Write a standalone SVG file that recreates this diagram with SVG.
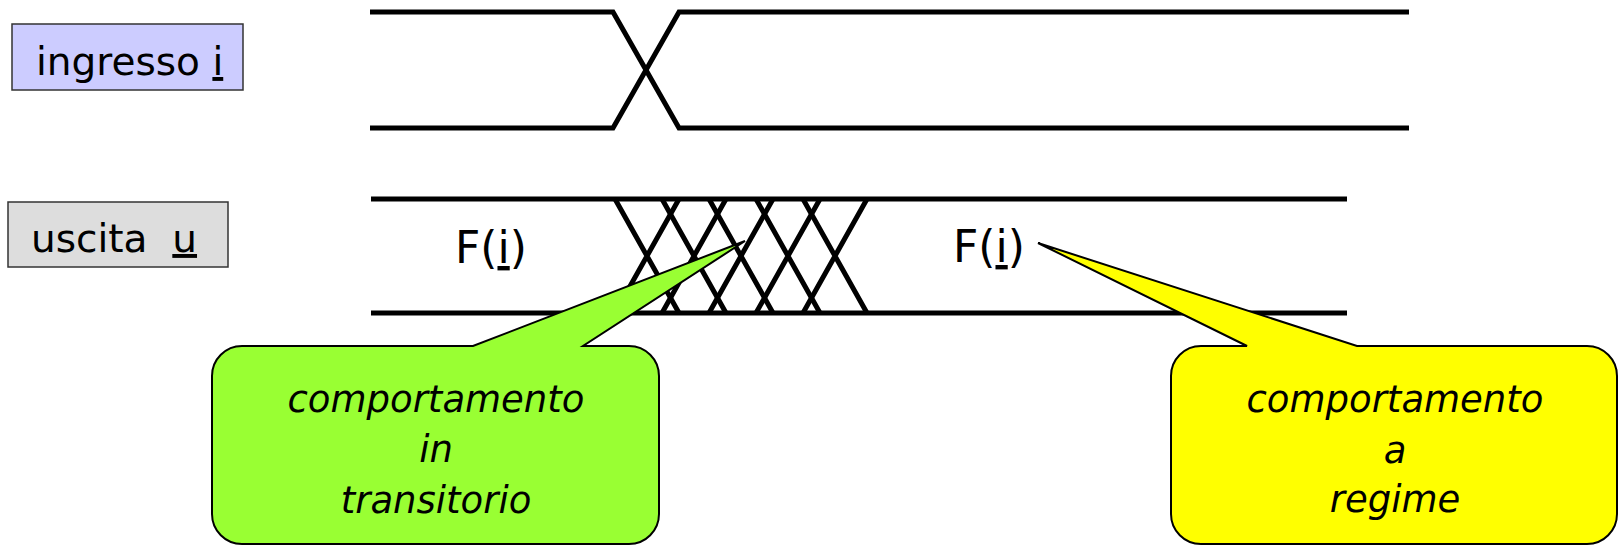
<svg xmlns="http://www.w3.org/2000/svg" width="1619" height="545" viewBox="0 0 1619 545">
<style>
.sig{fill:none;stroke:#000;stroke-width:5;stroke-linejoin:miter}
.hatch{fill:none;stroke:#000;stroke-width:5}
.lbl{font-family:"DejaVu Sans","Liberation Sans",sans-serif;font-size:39px;fill:#000}
.fi{font-family:"DejaVu Sans","Liberation Sans",sans-serif;font-size:44px;fill:#000}
.call{font-family:"DejaVu Sans","Liberation Sans",sans-serif;font-size:37px;font-style:italic;fill:#000;text-anchor:middle}
.box{stroke:#333;stroke-width:1.5}
.bubble{stroke:#000;stroke-width:2;stroke-linejoin:miter}
</style>
<rect width="1619" height="545" fill="#fff"/>
<g id="connectors">
  <!-- input signal -->
  <path class="sig" d="M370,12 H613 L679,128 H1409"/>
  <path class="sig" d="M370,128 H613 L679,12 H1409"/>
  <!-- output signal -->
  <path class="sig" d="M371,199 H1347"/>
  <path class="sig" d="M371,313 H1347"/>
  <g id="transient">
    <path class="hatch" d="M615,199 L679,313 M615,313 L679,199"/>
    <path class="hatch" d="M662,199 L726,313 M662,313 L726,199"/>
    <path class="hatch" d="M709,199 L773,313 M709,313 L773,199"/>
    <path class="hatch" d="M756,199 L820,313 M756,313 L820,199"/>
    <path class="hatch" d="M803,199 L867,313 M803,313 L867,199"/>
  </g>
</g>
<g id="ingresso">
  <rect class="box" x="12" y="24" width="231" height="66" fill="#ccccff"/>
  <text class="lbl" x="36" y="75">ingresso <tspan text-decoration="underline">i</tspan></text>
</g>
<g id="uscita">
  <rect class="box" x="8" y="202" width="220" height="65" fill="#dddddd"/>
  <text class="lbl" x="31" y="252" xml:space="preserve">uscita  <tspan text-decoration="underline">u</tspan></text>
</g>
<g id="label-f1">
  <text class="fi" x="455" y="263">F(<tspan text-decoration="underline">i</tspan>)</text>
</g>
<g id="label-f2">
  <text class="fi" x="953" y="262">F(<tspan text-decoration="underline">i</tspan>)</text>
</g>
<g id="callout-transitorio">
  <path class="bubble" fill="#99ff33" d="M242,346 H473 L745,241 L583,346 H629 A30,30 0 0 1 659,376 V514 A30,30 0 0 1 629,544 H242 A30,30 0 0 1 212,514 V376 A30,30 0 0 1 242,346 Z"/>
  <text class="call" x="436" y="412">comportamento</text>
  <text class="call" x="436" y="462">in</text>
  <text class="call" x="436" y="513">transitorio</text>
</g>
<g id="callout-regime">
  <path class="bubble" fill="#ffff00" d="M1201,346 H1247 L1038,243 L1357,346 H1587 A30,30 0 0 1 1617,376 V514 A30,30 0 0 1 1587,544 H1201 A30,30 0 0 1 1171,514 V376 A30,30 0 0 1 1201,346 Z"/>
  <text class="call" x="1395" y="412">comportamento</text>
  <text class="call" x="1395" y="463">a</text>
  <text class="call" x="1395" y="512">regime</text>
</g>
</svg>
